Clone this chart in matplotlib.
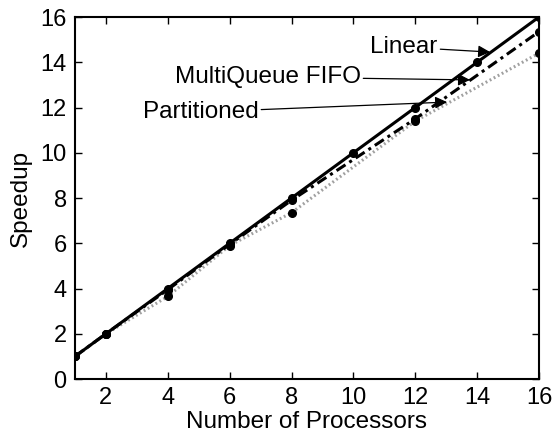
import matplotlib
matplotlib.use("Agg")
import matplotlib.pyplot as plt

plt.rcParams['font.family'] = ['Liberation Sans', 'DejaVu Sans']

lin_x = [1, 2, 4, 6, 8, 10, 12, 14, 16]
lin_y = [1, 2, 4, 6, 8, 10, 12, 14, 16]
fifo_x = [1, 2, 4, 6, 8, 12, 16]
fifo_y = [1, 2, 3.95, 5.95, 7.9, 11.5, 15.35]
part_x = [1, 2, 4, 6, 8, 12, 16]
part_y = [1, 2, 3.65, 5.9, 7.35, 11.4, 14.4]

xticks = [2, 4, 6, 8, 10, 12, 14, 16]
yticks = [0, 2, 4, 6, 8, 10, 12, 14, 16]

fig = plt.figure(figsize=(5.53, 4.36), dpi=100)
ax = fig.add_axes([0.1356, 0.1307, 0.8391, 0.8303])

ax.plot(part_x, part_y, linestyle=(0, (0.6, 0.9)), color='#a0a0a0', lw=2.2, zorder=2)
ax.plot(part_x, part_y, linestyle='none', marker='o', ms=5.5, color='black', zorder=4)
ax.plot(fifo_x, fifo_y, linestyle=(0, (3.5, 1.5, 1, 1.5)), color='black', lw=2.2,
        marker='o', ms=5.5, zorder=3)
ax.plot(lin_x, lin_y, linestyle='-', color='black', lw=2.2, marker='o', ms=5.5, zorder=5)

ax.set_xlim(1, 16)
ax.set_ylim(0, 16)
ax.set_xticks(xticks)
ax.set_yticks(yticks)
ax.tick_params(direction='in', length=5, width=1, labelsize=17, top=True, right=True, pad=6)
for s in ax.spines.values():
    s.set_linewidth(1.5)

ax.set_xlabel('Number of Processors', fontsize=17.5, labelpad=1)
ax.set_ylabel('Speedup', fontsize=17.5, labelpad=6)

arrow = dict(arrowstyle='-|>', color='black', lw=0.9, mutation_scale=18, shrinkA=0, shrinkB=0)
ax.annotate('Linear', xy=(14.42, 14.45), xytext=(12.72, 14.67), fontsize=17.5,
            ha='right', va='center', arrowprops=arrow)
ax.annotate('MultiQueue FIFO', xy=(13.77, 13.22), xytext=(10.23, 13.35), fontsize=17.5,
            ha='right', va='center', arrowprops=arrow)
ax.annotate('Partitioned', xy=(13.03, 12.24), xytext=(6.93, 11.8), fontsize=17.5,
            ha='right', va='center', arrowprops=arrow)

fig.savefig('out.png', dpi=100)
